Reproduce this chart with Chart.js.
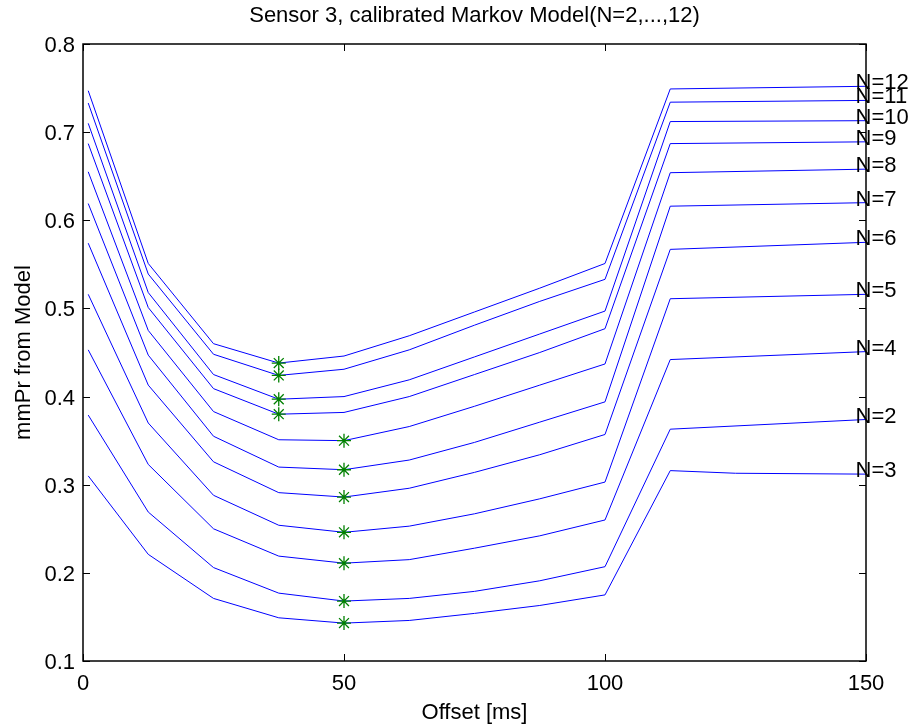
<!DOCTYPE html>
<html>
<head>
<meta charset="utf-8">
<script src="https://cdn.jsdelivr.net/npm/chart.js@4.4.1/dist/chart.umd.min.js"></script>
<style>
  html, body { margin: 0; padding: 0; background: #fff; }
  canvas { display: block; }
</style>
</head>
<body>
<canvas id="chart" width="917" height="725"></canvas>
<script>
// offsets (ms) where the model was evaluated
const offsets = [1, 12.5, 25, 37.5, 50, 62.5, 75, 87.5, 100, 112.5, 125, 137.5, 150];

// mmPr for each model order (null = no visible vertex)
const n2  = [0.379, 0.269, 0.206, 0.177, 0.168, 0.171, 0.179, 0.191, 0.207, 0.363, null, null, 0.374];
const n3  = [0.310, 0.221, 0.171, 0.149, 0.143, 0.146, 0.154, 0.163, 0.175, 0.316, 0.313, null, 0.312];
const n4  = [0.453, 0.323, 0.250, 0.219, 0.211, 0.215, 0.228, 0.242, 0.260, 0.442, null, null, 0.451];
const n5  = [0.516, 0.370, 0.288, 0.254, 0.246, 0.253, 0.267, 0.284, 0.303, 0.511, null, null, 0.516];
const n6  = [0.574, 0.413, 0.326, 0.291, 0.286, 0.296, 0.314, 0.334, 0.357, 0.567, null, null, 0.575];
const n7  = [0.619, 0.447, 0.355, 0.320, 0.317, 0.328, 0.348, 0.371, 0.394, 0.616, null, null, 0.620];
const n8  = [0.655, 0.475, 0.383, 0.351, 0.350, 0.366, 0.389, 0.413, 0.437, 0.654, null, null, 0.658];
const n9  = [0.687, 0.501, 0.409, 0.380, 0.382, 0.400, 0.425, 0.450, 0.477, 0.687, null, null, 0.689];
const n10 = [0.710, 0.518, 0.425, 0.397, 0.400, 0.419, 0.445, 0.471, 0.497, 0.712, null, null, 0.713];
const n11 = [0.733, 0.539, 0.448, 0.424, 0.431, 0.453, 0.481, 0.508, 0.533, 0.734, null, null, 0.736];
const n12 = [0.747, 0.551, 0.460, 0.438, 0.446, 0.469, 0.496, 0.523, 0.551, 0.749, null, null, 0.752];

const seriesNames  = ['N=2', 'N=3', 'N=4', 'N=5', 'N=6', 'N=7', 'N=8', 'N=9', 'N=10', 'N=11', 'N=12'];
const seriesValues = [n2, n3, n4, n5, n6, n7, n8, n9, n10, n11, n12];

const xTicks = [0, 50, 100, 150];
const yTicks = [0.1, 0.2, 0.3, 0.4, 0.5, 0.6, 0.7, 0.8];

const FONT = '22px "Liberation Sans", Arial, Helvetica, sans-serif';

// line datasets (gaps are skipped, so the line goes straight across)
const lineSets = seriesValues.map((vals, i) => ({
    label: seriesNames[i],
    data: offsets.map((x, j) => ({ x: x, y: vals[j] })).filter(p => p.y !== null),
    borderColor: '#0000ff',
    borderWidth: 1,
    pointRadius: 0,
    fill: false,
    tension: 0,
    order: 1
}));

// minimum of every curve gets a star
const minPoints = seriesValues.map(vals => {
    let best = 0;
    vals.forEach((v, j) => { if (v !== null && v < vals[best]) best = j; });
    return { x: offsets[best], y: vals[best] };
});

const markerSet = {
    type: 'scatter',
    label: 'min',
    data: minPoints,
    pointStyle: 'star',
    pointRadius: 7,
    borderColor: '#008000',
    backgroundColor: '#008000',
    borderWidth: 1.3,
    showLine: false,
    order: 0
};

// frame, inward ticks and all text, matlab style
const decorations = {
    id: 'decorations',
    afterDraw(chart) {
        const ctx = chart.ctx;
        const a = chart.chartArea;
        const x = chart.scales.x;
        const y = chart.scales.y;
        const line = (x1, y1, x2, y2) => {
            ctx.beginPath();
            ctx.moveTo(x1, y1);
            ctx.lineTo(x2, y2);
            ctx.stroke();
        };

        ctx.save();
        ctx.strokeStyle = '#000';
        ctx.lineWidth = 1.5;
        ctx.strokeRect(a.left, a.top, a.right - a.left, a.bottom - a.top);

        ctx.lineWidth = 1;
        xTicks.forEach(v => {
            const px = Math.round(x.getPixelForValue(v)) + 0.5;
            line(px, a.bottom, px, a.bottom - 7);
            line(px, a.top, px, a.top + 7);
        });
        yTicks.forEach(v => {
            const py = Math.round(y.getPixelForValue(v)) + 0.5;
            line(a.left, py, a.left + 7, py);
            line(a.right, py, a.right - 7, py);
        });

        ctx.fillStyle = '#000';
        ctx.font = FONT;
        ctx.textBaseline = 'alphabetic';

        ctx.textAlign = 'center';
        xTicks.forEach(v => ctx.fillText(String(v), x.getPixelForValue(v), a.bottom + 29));

        ctx.textAlign = 'right';
        yTicks.forEach(v => ctx.fillText(v.toFixed(1), a.left - 8, y.getPixelForValue(v) + 8));

        // curve names at the right end
        ctx.textAlign = 'left';
        ctx.textBaseline = 'middle';
        seriesNames.forEach((name, i) => {
            const vals = seriesValues[i];
            const last = vals[vals.length - 1];
            ctx.fillText(name, x.getPixelForValue(148), y.getPixelForValue(last) - 3);
        });

        ctx.textAlign = 'center';
        ctx.textBaseline = 'alphabetic';
        const cx = (a.left + a.right) / 2;
        ctx.fillText('Sensor 3, calibrated Markov Model(N=2,...,12)', cx, 22);
        ctx.fillText('Offset [ms]', cx, 719);

        ctx.translate(30, (a.top + a.bottom) / 2);
        ctx.rotate(-Math.PI / 2);
        ctx.fillText('mmPr from Model', 0, 0);
        ctx.restore();
    }
};

const chart = new Chart(document.getElementById('chart').getContext('2d'), {
    type: 'line',
    data: { datasets: [...lineSets, markerSet] },
    options: {
        responsive: false,
        animation: false,
        layout: { padding: { left: 83, top: 44, right: 51, bottom: 64 } },
        scales: {
            x: { type: 'linear', min: 0, max: 150, display: false },
            y: { type: 'linear', min: 0.1, max: 0.8, display: false }
        },
        plugins: {
            legend: { display: false },
            tooltip: { enabled: false }
        }
    },
    plugins: [decorations]
});
</script>
</body>
</html>
